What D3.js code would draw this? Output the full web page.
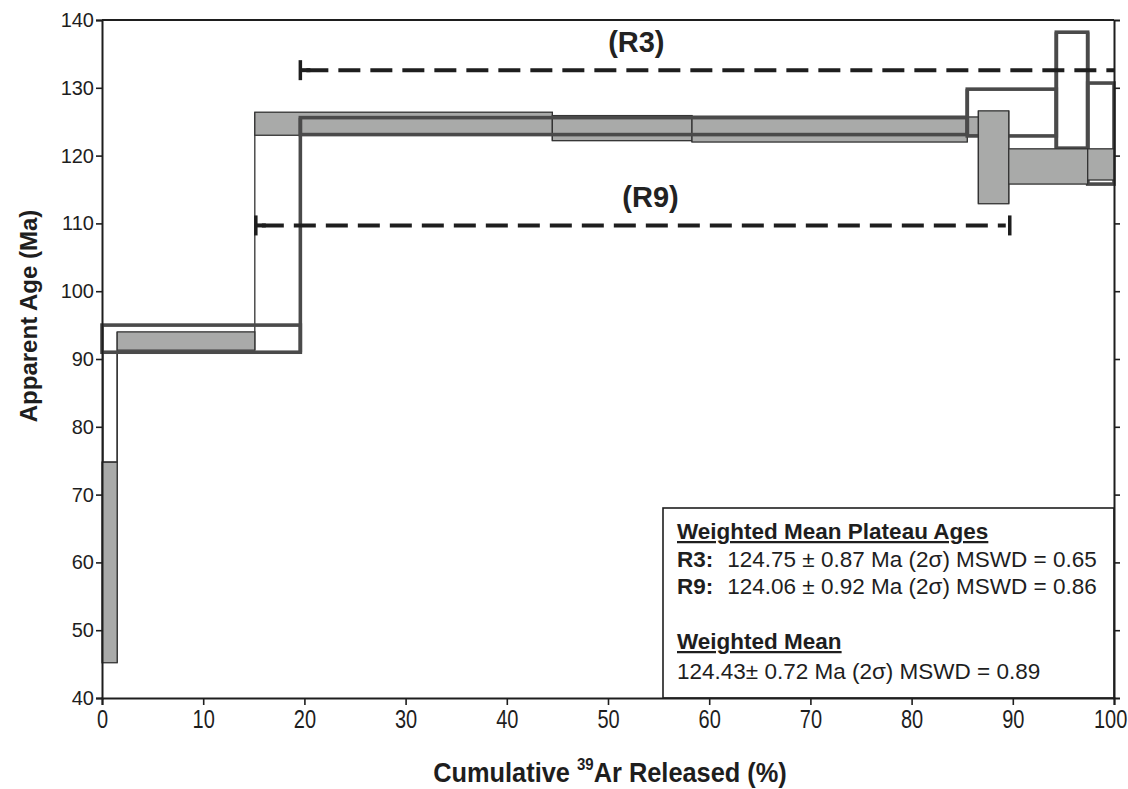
<!DOCTYPE html>
<html>
<head>
<meta charset="utf-8">
<script src="https://cdn.jsdelivr.net/npm/d3@7"></script>
<style>
  body { margin: 0; background: #fff; }
  svg { display: block; font-family: "Liberation Sans", Arial, sans-serif; }
</style>
</head>
<body>
<div id="plot"></div>
<script>
// step-heating spectra: cumulative % released (x0..x1), age error box (lo..hi) in Ma
const r9Steps = [
  { x0: 0,    x1: 1.5,  lo: 45.2,  hi: 74.8 },
  { x0: 1.5,  x1: 15.1, lo: 91.3,  hi: 94.0 },
  { x0: 15.1, x1: 44.5, lo: 123.0, hi: 126.4 },
  { x0: 44.5, x1: 58.3, lo: 122.2, hi: 125.9 },
  { x0: 58.3, x1: 85.5, lo: 122.0, hi: 125.8 },
  { x0: 85.5, x1: 86.6, lo: 123.0, hi: 125.7 },
  { x0: 86.6, x1: 89.6, lo: 112.9, hi: 126.6 },
  { x0: 89.6, x1: 97.4, lo: 115.8, hi: 121.0 },
  { x0: 97.4, x1: 100,  lo: 116.4, hi: 121.0 }
];
const r3Steps = [
  { x0: 0,    x1: 19.6, lo: 91.0,  hi: 95.0 },
  { x0: 19.6, x1: 85.5, lo: 123.1, hi: 125.6 },
  { x0: 85.5, x1: 94.3, lo: 122.9, hi: 129.8 },
  { x0: 94.3, x1: 97.4, lo: 121.1, hi: 138.2 },
  { x0: 97.4, x1: 100,  lo: 115.8, hi: 130.7 }
];
// thin open column above the first R9 step
const r3Low = [{ x0: 0.1, x1: 1.5, lo: 74.8, hi: 91.0 }];

// plateau markers
const plateaus = [
  { name: "(R3)", x0: 19.6, x1: 100, age: 132.6, capRight: false, labelX: 52.8, labelAge: 135.3 },
  { name: "(R9)", x0: 15.2, x1: 89.7, age: 109.7, capRight: true,  labelX: 54.2, labelAge: 112.4 }
];

const xTicks = d3.range(0, 101, 10);
const yTicks = d3.range(40, 141, 10);

const legendTitle1 = "Weighted Mean Plateau Ages";
const legendRows = [
  { tag: "R3:", text: "124.75 \u00b1 0.87 Ma (2\u03c3) MSWD = 0.65" },
  { tag: "R9:", text: "124.06 \u00b1 0.92 Ma (2\u03c3) MSWD = 0.86" }
];
const legendTitle2 = "Weighted Mean";
const legendMean = "124.43\u00b1 0.72 Ma (2\u03c3) MSWD = 0.89";

const W = 1128, H = 789;
const m = { left: 102, right: 14, top: 20, bottom: 91 };

const x = d3.scaleLinear().domain([0, 100]).range([m.left, W - m.right]);
const y = d3.scaleLinear().domain([40, 140]).range([H - m.bottom, m.top]);

const svg = d3.select("#plot").append("svg")
  .attr("width", W).attr("height", H);

const ink = "#1e1e1e";

function boxes(g, data, cls) {
  return g.selectAll("rect." + cls)
    .data(data)
    .enter()
    .append("rect")
    .attr("class", cls)
    .attr("x", d => x(d.x0))
    .attr("y", d => y(d.hi))
    .attr("width", d => x(d.x1) - x(d.x0))
    .attr("height", d => y(d.lo) - y(d.hi));
}

// vertical risers between consecutive steps
function risers(g, data, cls) {
  const pairs = d3.pairs(data);
  return g.selectAll("line." + cls)
    .data(pairs)
    .enter()
    .append("line")
    .attr("class", cls)
    .attr("x1", d => x(d[0].x1)).attr("x2", d => x(d[0].x1))
    .attr("y1", d => y(Math.min(d[0].lo, d[1].lo)))
    .attr("y2", d => y(Math.max(d[0].hi, d[1].hi)));
}

const gPlot = svg.append("g");

risers(gPlot, r9Steps, "r9r")
  .attr("stroke", "#333").attr("stroke-width", 1.3);

// gray filled R9 boxes (under the open ones)
boxes(gPlot, r9Steps.slice(0, 6), "r9a")
  .attr("fill", "#a9aaa9")
  .attr("stroke", "#333")
  .attr("stroke-width", 1.3);

boxes(gPlot, r3Low, "r3low")
  .attr("fill", "none")
  .attr("stroke", "#333")
  .attr("stroke-width", 1.3);

// open R3 boxes
risers(gPlot, r3Steps, "r3r")
  .attr("stroke", "#4a4a4a").attr("stroke-width", 3.6);
boxes(gPlot, r3Steps, "r3")
  .attr("fill", "none")
  .attr("stroke", "#4a4a4a")
  .attr("stroke-width", 3.6);

// later R9 boxes drawn on top
boxes(gPlot, r9Steps.slice(6), "r9b")
  .attr("fill", "#a9aaa9")
  .attr("stroke", "#333")
  .attr("stroke-width", 1.3);

// plateau dashed lines
const gP = svg.append("g");
plateaus.forEach(p => {
  gP.append("line")
    .attr("x1", x(p.x0) + 6).attr("x2", x(p.x1) - (p.capRight ? 4 : 0))
    .attr("y1", y(p.age)).attr("y2", y(p.age))
    .attr("stroke", ink).attr("stroke-width", 4)
    .attr("stroke-dasharray", "22,10");
  gP.append("line")
    .attr("x1", x(p.x0)).attr("x2", x(p.x0))
    .attr("y1", y(p.age) - 10).attr("y2", y(p.age) + 10)
    .attr("stroke", ink).attr("stroke-width", 3.5);
  gP.append("line")
    .attr("x1", x(p.x0)).attr("x2", x(p.x0) + 10)
    .attr("y1", y(p.age)).attr("y2", y(p.age))
    .attr("stroke", ink).attr("stroke-width", 4);
  if (p.capRight) {
    gP.append("line")
      .attr("x1", x(p.x1)).attr("x2", x(p.x1))
      .attr("y1", y(p.age) - 10).attr("y2", y(p.age) + 10)
      .attr("stroke", ink).attr("stroke-width", 3.5);
  }
  gP.append("text")
    .attr("x", x(p.labelX)).attr("y", y(p.labelAge))
    .attr("text-anchor", "middle")
    .attr("font-size", 29).attr("font-weight", "bold")
    .attr("fill", "#222")
    .text(p.name);
});

// legend box
const lg = svg.append("g");
lg.append("rect")
  .attr("x", 663).attr("y", 508)
  .attr("width", x(100) - 663).attr("height", y(40) - 508)
  .attr("fill", "#fff").attr("stroke", ink).attr("stroke-width", 1.6);

const lx = 677, fs = 22.5;
lg.append("text").attr("x", lx).attr("y", 539)
  .attr("font-size", fs).attr("font-weight", "bold")
  .attr("text-decoration", "underline").attr("fill", ink)
  .text(legendTitle1);
legendRows.forEach((r, i) => {
  const t = lg.append("text").attr("x", lx).attr("y", 567 + i * 27)
    .attr("font-size", fs).attr("fill", ink);
  t.append("tspan").attr("font-weight", "bold").text(r.tag);
  t.append("tspan").attr("dx", 14).text(r.text);
});
lg.append("text").attr("x", lx).attr("y", 649)
  .attr("font-size", fs).attr("font-weight", "bold")
  .attr("text-decoration", "underline").attr("fill", ink)
  .text(legendTitle2);
lg.append("text").attr("x", lx).attr("y", 679)
  .attr("font-size", fs).attr("fill", ink)
  .text(legendMean);

// axes
const xAxis = svg.append("g")
  .attr("transform", `translate(0,${y(40)})`)
  .call(d3.axisBottom(x).tickValues(xTicks).tickSize(7).tickPadding(5).tickFormat(d3.format("d")));
const yAxis = svg.append("g")
  .attr("transform", `translate(${x(0)},0)`)
  .call(d3.axisLeft(y).tickValues(yTicks).tickSize(6).tickPadding(2).tickFormat(d3.format("d")));
const yAxisR = svg.append("g")
  .attr("transform", `translate(${x(100)},0)`)
  .call(d3.axisRight(y).tickValues(yTicks.slice(1, -1)).tickSize(6).tickFormat(""));
svg.append("line")
  .attr("x1", x(0)).attr("x2", x(100))
  .attr("y1", y(140)).attr("y2", y(140))
  .attr("stroke", ink).attr("stroke-width", 2);

[xAxis, yAxis, yAxisR].forEach(a => {
  a.select(".domain").attr("stroke", ink).attr("stroke-width", 2);
  a.selectAll(".tick line").attr("stroke", ink).attr("stroke-width", 1.6);
  a.selectAll(".tick text").attr("fill", ink);
});
// narrow, tall tick labels like the original
xAxis.selectAll(".tick text")
  .attr("font-size", 25)
  .attr("transform", "scale(0.8,1)");
xAxis.selectAll(".tick text").filter(d => d === 100)
  .attr("text-anchor", "end").attr("x", 16);
yAxis.selectAll(".tick text").attr("font-size", 20);

// axis titles
const xt = svg.append("text")
  .attr("transform", "translate(610,782) scale(0.94,1)")
  .attr("text-anchor", "middle")
  .attr("font-size", 27).attr("font-weight", "bold")
  .attr("fill", ink);
xt.append("tspan").text("Cumulative ");
xt.append("tspan").attr("font-size", 16).attr("dy", -12).text("39");
xt.append("tspan").attr("dy", 12).text("Ar Released (%)");

svg.append("text")
  .attr("transform", "translate(37,316) rotate(-90)")
  .attr("text-anchor", "middle")
  .attr("font-size", 24).attr("font-weight", "bold")
  .attr("fill", ink)
  .text("Apparent Age (Ma)");
</script>
</body>
</html>
